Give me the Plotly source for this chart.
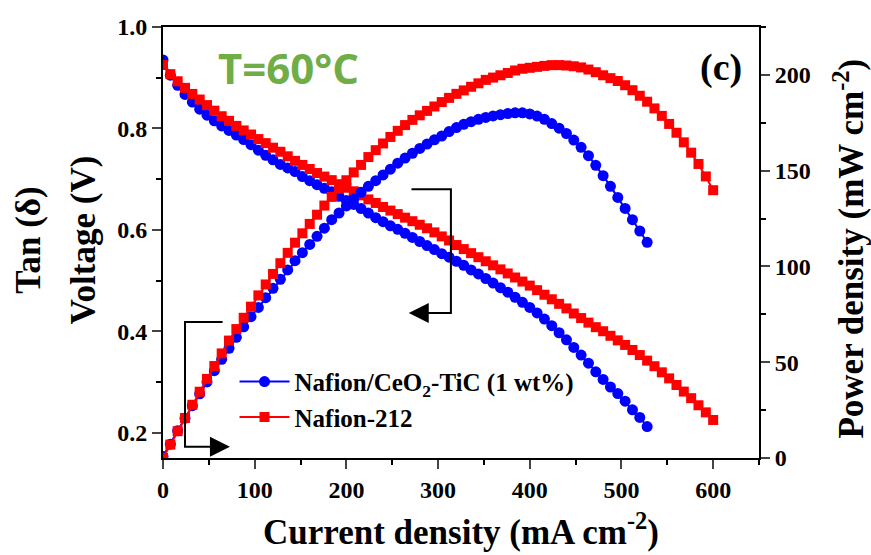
import plotly.graph_objects as go

# ---------------- data ----------------
current_blue = [0, 8, 16, 24, 32, 40, 48, 56, 64, 72, 80, 88, 96, 104, 112, 120, 128, 136, 144, 152,
                160, 168, 176, 184, 192, 200, 208, 216, 224, 232, 240, 248, 256, 264, 272, 280, 288, 296,
                304, 312, 320, 328, 336, 344, 352, 360, 368, 376, 384, 392, 400, 408, 416, 424, 432, 440,
                448, 456, 464, 472, 480, 488, 496, 504, 512, 520, 528]
voltage_blue = [0.935, 0.905, 0.885, 0.867, 0.852, 0.838, 0.826, 0.815, 0.805, 0.796,
                0.787, 0.778, 0.768, 0.757, 0.747, 0.738, 0.729, 0.722, 0.715, 0.705,
                0.697, 0.689, 0.682, 0.675, 0.666, 0.658, 0.650, 0.642, 0.633, 0.624,
                0.616, 0.608, 0.601, 0.593, 0.585, 0.577, 0.569, 0.561, 0.553, 0.546,
                0.538, 0.530, 0.521, 0.513, 0.504, 0.495, 0.486, 0.477, 0.467, 0.457,
                0.447, 0.436, 0.424, 0.411, 0.397, 0.383, 0.368, 0.353, 0.337, 0.320,
                0.305, 0.290, 0.277, 0.262, 0.245, 0.230, 0.212]
power_blue = [0.8, 7.2, 14.2, 20.8, 27.3, 33.5, 39.7, 45.6, 51.5, 57.3,
              63.0, 68.5, 73.8, 78.6, 83.7, 88.6, 93.3, 98.2, 103.0, 107.2,
              111.5, 115.7, 120.0, 124.4, 127.9, 131.6, 135.2, 138.7, 141.8, 144.8,
              147.8, 150.8, 153.9, 156.6, 159.1, 161.6, 163.9, 166.1, 168.1, 170.4,
              172.5, 174.2, 175.6, 176.8, 177.8, 178.6, 179.2, 179.8, 180.2, 180.2,
              179.6, 178.5, 176.8, 174.6, 172.2, 169.4, 166.0, 162.2, 157.8, 152.8,
              147.4, 141.8, 136.0, 130.3, 124.4, 118.5, 112.6]

current_red = [0, 8, 16, 24, 32, 40, 48, 56, 64, 72, 80, 88, 96, 104, 112, 120, 128, 136, 144, 152,
               160, 168, 176, 184, 192, 200, 208, 216, 224, 232, 240, 248, 256, 264, 272, 280, 288, 296,
               304, 312, 320, 328, 336, 344, 352, 360, 368, 376, 384, 392, 400, 408, 416, 424, 432, 440,
               448, 456, 464, 472, 480, 488, 496, 504, 512, 520, 528, 536, 544, 552, 560, 568, 576, 584,
               592, 600]
voltage_red = [0.925, 0.907, 0.893, 0.880, 0.868, 0.857, 0.846, 0.835, 0.824, 0.815,
               0.805, 0.796, 0.788, 0.779, 0.771, 0.762, 0.754, 0.745, 0.736, 0.728,
               0.720, 0.712, 0.705, 0.698, 0.690, 0.683, 0.676, 0.668, 0.660, 0.653,
               0.645, 0.638, 0.631, 0.624, 0.617, 0.610, 0.603, 0.595, 0.587, 0.579,
               0.570, 0.562, 0.554, 0.546, 0.538, 0.530, 0.522, 0.514, 0.506, 0.498,
               0.490, 0.481, 0.472, 0.463, 0.454, 0.445, 0.435, 0.426, 0.417, 0.408,
               0.400, 0.391, 0.382, 0.373, 0.363, 0.353, 0.342, 0.331, 0.319, 0.307,
               0.294, 0.281, 0.268, 0.254, 0.240, 0.225]
power_red = [0.0, 7.0, 14.0, 20.9, 27.8, 34.6, 41.3, 48.0, 54.6, 61.3,
             67.3, 73.2, 79.0, 84.9, 90.6, 96.1, 101.7, 107.1, 112.4, 117.3,
             122.2, 127.0, 131.8, 136.3, 140.7, 145.0, 149.1, 153.0, 157.1, 160.7,
             164.2, 167.6, 170.8, 173.8, 176.5, 178.9, 181.2, 183.5, 185.8, 188.0,
             190.1, 191.9, 193.8, 195.6, 197.4, 198.6, 199.8, 201.0, 202.3, 203.2,
             203.7, 204.2, 204.7, 205.1, 205.1, 204.9, 204.5, 203.9, 202.8, 201.4,
             199.8, 198.3, 196.8, 194.6, 192.0, 189.1, 186.0, 182.5, 178.6, 174.4,
             169.8, 164.8, 159.4, 153.5, 147.0, 139.8]

series_names = ["Nafion/CeO<sub>2</sub>-TiC (1 wt%)", "Nafion-212"]
x_ticks = [0, 100, 200, 300, 400, 500, 600]
y_ticks = [0.2, 0.4, 0.6, 0.8, 1.0]
y2_ticks = [0, 50, 100, 150, 200]

BLUE = "#0000FF"
RED = "#FF0000"
SERIF = "Liberation Serif"

fig = go.Figure()
fig.add_trace(go.Scatter(x=current_blue, y=voltage_blue, mode="lines+markers", name=series_names[0],
                         line=dict(color=BLUE, width=2), marker=dict(symbol="circle", size=11, color=BLUE),
                         yaxis="y"))
fig.add_trace(go.Scatter(x=current_red, y=voltage_red, mode="lines+markers", name=series_names[1],
                         line=dict(color=RED, width=2), marker=dict(symbol="square", size=10, color=RED),
                         yaxis="y"))
fig.add_trace(go.Scatter(x=current_blue, y=power_blue, mode="lines+markers", showlegend=False,
                         line=dict(color=BLUE, width=2), marker=dict(symbol="circle", size=11, color=BLUE),
                         yaxis="y2"))
fig.add_trace(go.Scatter(x=current_red, y=power_red, mode="lines+markers", showlegend=False,
                         line=dict(color=RED, width=2), marker=dict(symbol="square", size=10, color=RED),
                         yaxis="y2"))

tickfont = dict(family=SERIF, size=24, color="black", weight="bold")
fig.update_layout(
    width=871, height=555,
    margin=dict(l=163, r=112, t=27, b=97),
    paper_bgcolor="white", plot_bgcolor="white",
    xaxis=dict(range=[0, 650], tickvals=x_ticks, ticks="outside", ticklen=9, tickwidth=2,
               showline=True, linewidth=2, linecolor="black", mirror=True, showgrid=False,
               zeroline=False, tickfont=tickfont, automargin=False,
               minor=dict(dtick=50, tick0=0, ticks="outside", ticklen=5, tickwidth=2, tickcolor="black")),
    yaxis=dict(range=[0.15, 1.0], tickvals=y_ticks, tickformat=".1f", ticks="outside", ticklen=9,
               tickwidth=2, showline=True, linewidth=2, linecolor="black", showgrid=False,
               zeroline=False, tickfont=tickfont, automargin=False,
               minor=dict(dtick=0.1, tick0=0.1, ticks="outside", ticklen=5, tickwidth=2, tickcolor="black")),
    yaxis2=dict(range=[0, 225], tickvals=y2_ticks, overlaying="y", side="right", ticks="outside",
                ticklen=9, tickwidth=2, showline=True, linewidth=2, linecolor="black", showgrid=False,
                zeroline=False, tickfont=tickfont, automargin=False,
                minor=dict(dtick=25, tick0=0, ticks="outside", ticklen=5, tickwidth=2, tickcolor="black")),
    legend=dict(x=0.12, y=0.23, xanchor="left", yanchor="top", bgcolor="rgba(0,0,0,0)",
                itemwidth=50,
                font=dict(family=SERIF, size=25, color="black", weight="bold"), tracegroupgap=0),
    showlegend=True,
)

title_font = dict(family=SERIF, size=35, color="black", weight="bold")
fig.add_annotation(text="Current density (mA cm<sup>-2</sup>)", xref="paper", yref="paper",
                   x=0.50, y=-0.165, xanchor="center", yanchor="middle", showarrow=False, font=title_font)
fig.add_annotation(text="Voltage (V)", xref="paper", yref="paper", x=-0.134, y=0.505, textangle=-90,
                   xanchor="center", yanchor="middle", showarrow=False, font=title_font)
fig.add_annotation(text="Tan (δ)", xref="paper", yref="paper", x=-0.226, y=0.505, textangle=-90,
                   xanchor="center", yanchor="middle", showarrow=False, font=title_font)
fig.add_annotation(text="Power density (mW cm<sup>-2</sup>)", xref="paper", yref="paper", x=1.152, y=0.485,
                   textangle=-90, xanchor="center", yanchor="middle", showarrow=False, font=title_font)
fig.add_annotation(text="T=60°C", xref="paper", yref="paper", x=0.211, y=0.907, xanchor="center",
                   yanchor="middle", showarrow=False,
                   font=dict(family="Open Sans", size=42, color="#70AD47", weight="bold"))
fig.add_annotation(text="(c)", xref="paper", yref="paper", x=0.936, y=0.905, xanchor="center",
                   yanchor="middle", showarrow=False, font=dict(family=SERIF, size=38, color="black", weight="bold"))

# bracket arrows (voltage -> power axis, power <- voltage axis)
fig.add_shape(type="path", xref="x", yref="y", path="M 65,0.418 L 24,0.418 L 24,0.172 L 60,0.172",
              line=dict(color="black", width=2))
fig.add_annotation(x=73, y=0.172, ax=50, ay=0.172, xref="x", yref="y", axref="x", ayref="y", text="",
                   showarrow=True, arrowhead=2, arrowsize=2.0, arrowwidth=2, arrowcolor="black")
fig.add_shape(type="path", xref="x", yref="y", path="M 271,0.68 L 314,0.68 L 314,0.436 L 282,0.436",
              line=dict(color="black", width=2))
fig.add_annotation(x=268, y=0.436, ax=292, ay=0.436, xref="x", yref="y", axref="x", ayref="y", text="",
                   showarrow=True, arrowhead=2, arrowsize=2.0, arrowwidth=2, arrowcolor="black")

fig.write_html("out.html")
